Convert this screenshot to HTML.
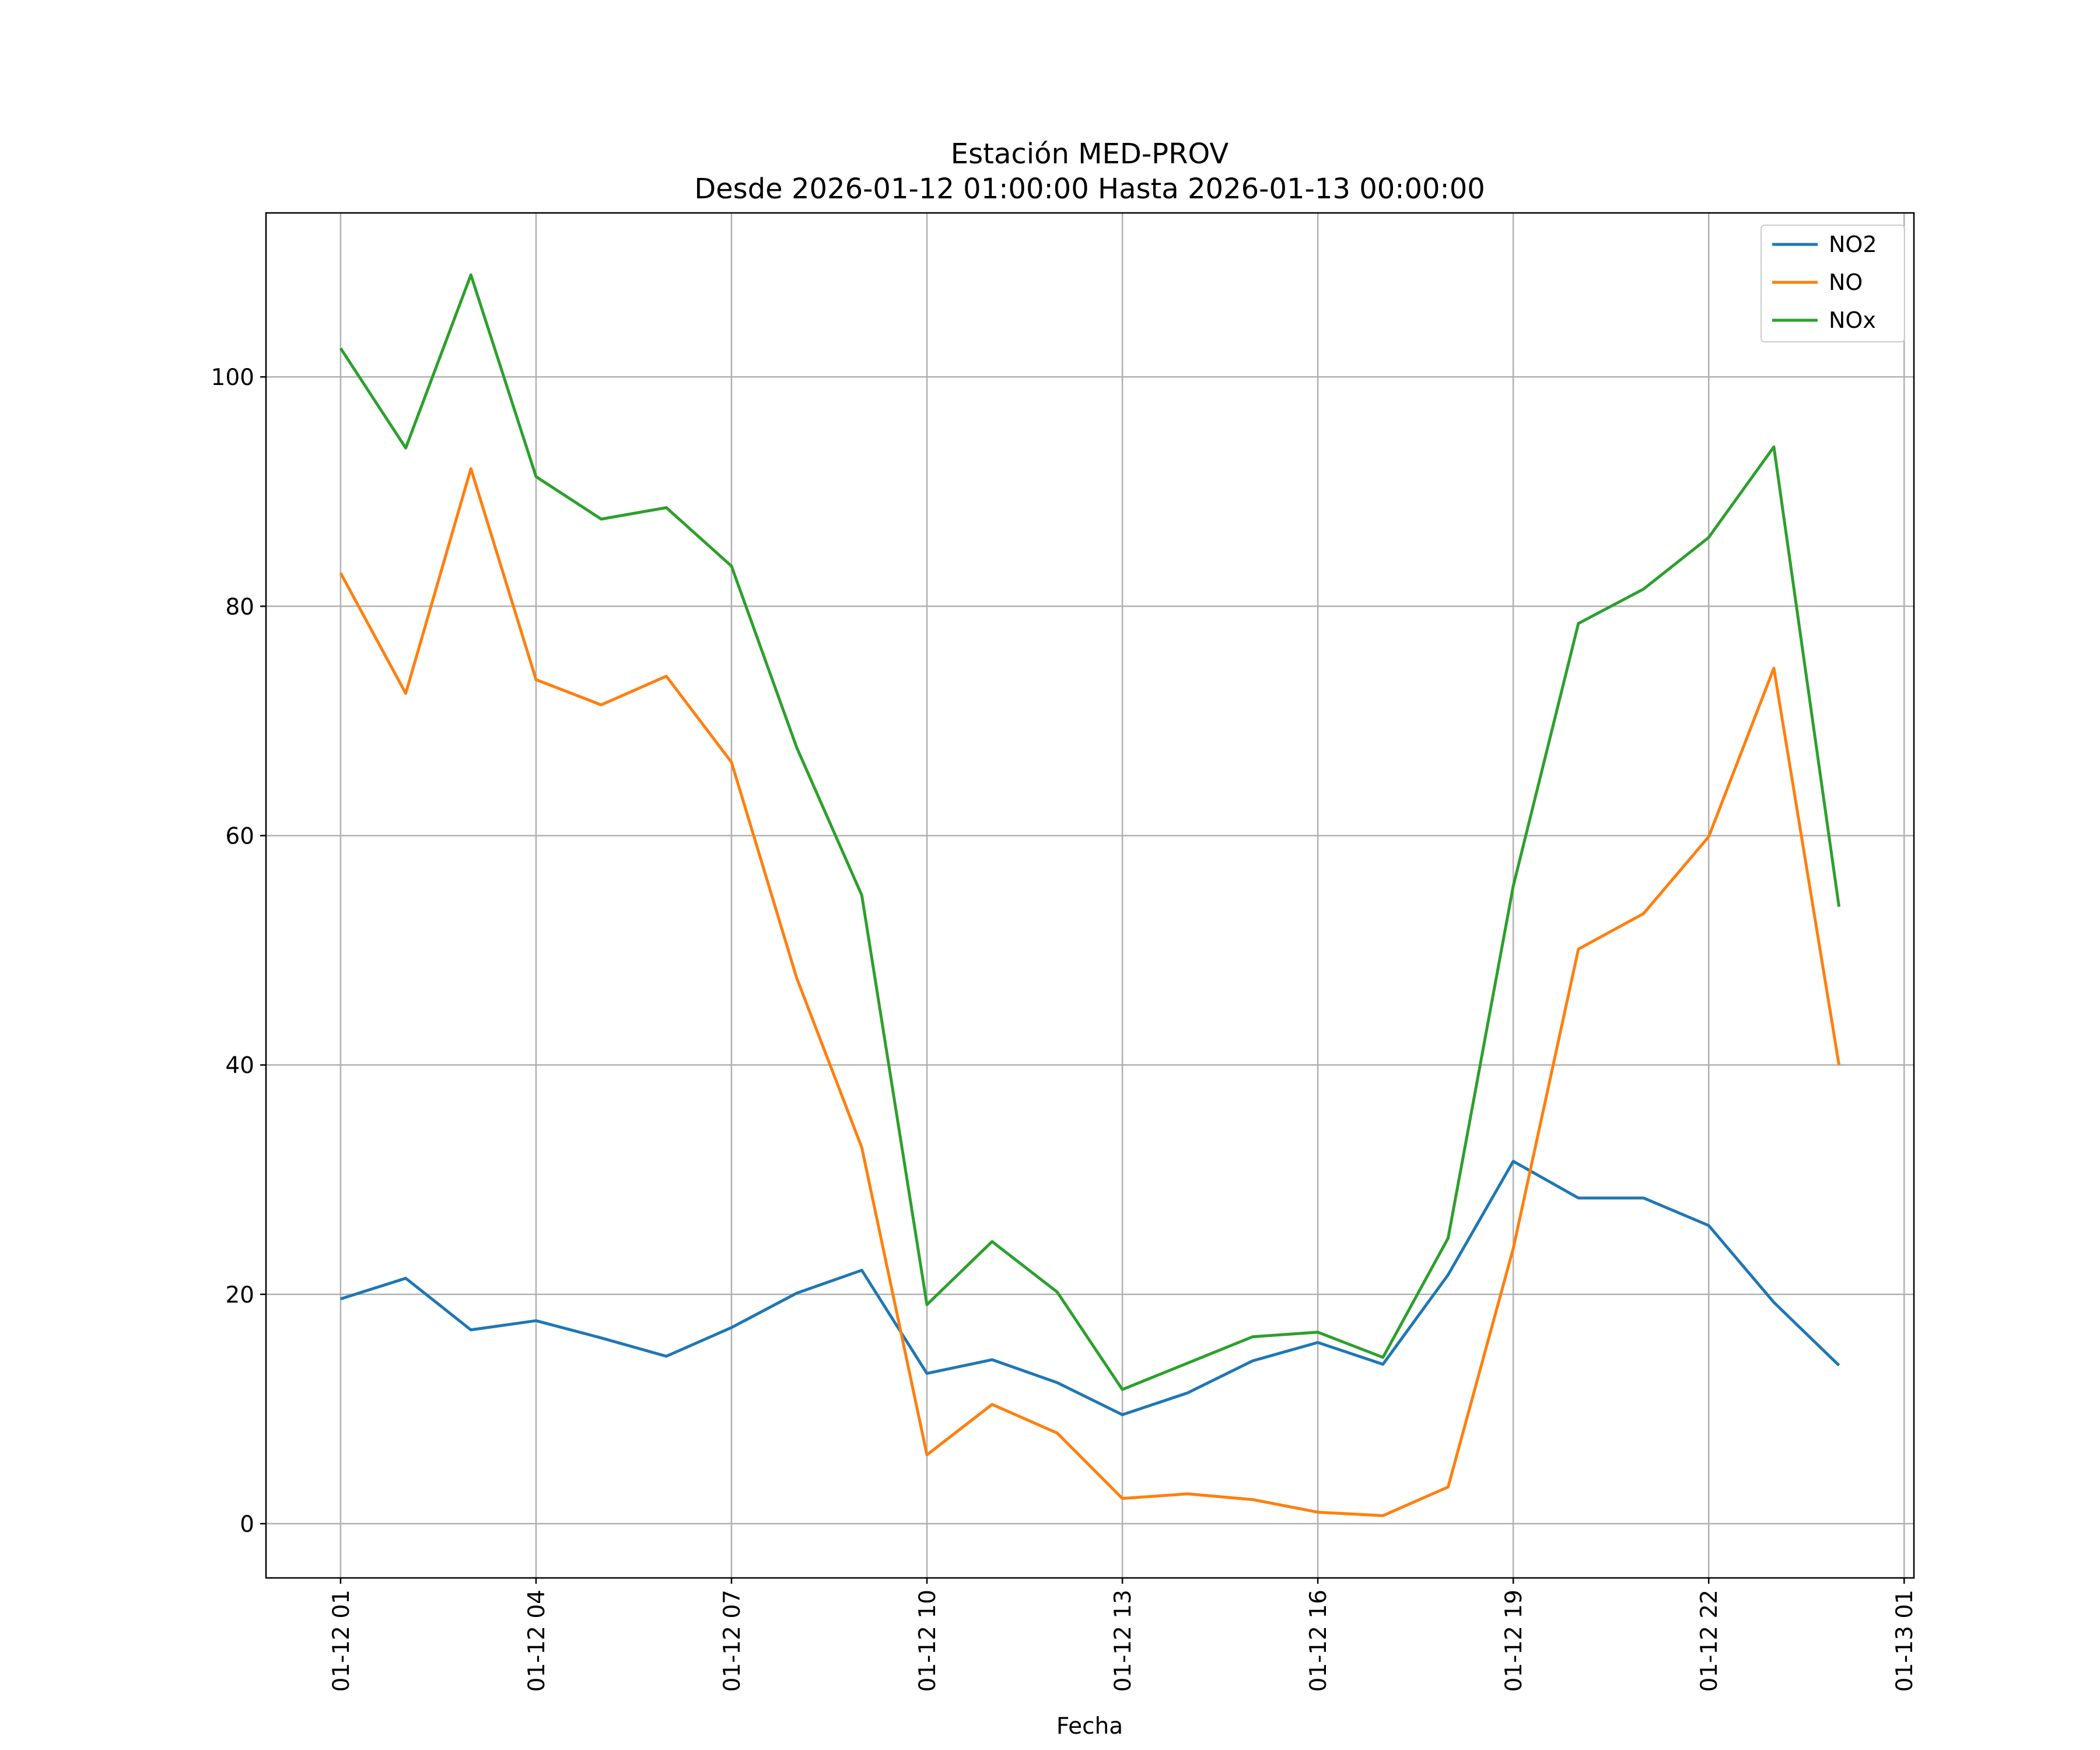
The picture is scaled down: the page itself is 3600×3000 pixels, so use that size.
<!DOCTYPE html>
<html><head><meta charset="utf-8"><style>
body{margin:0;background:#fff}
svg{display:block;font-family:"DejaVu Sans","Liberation Sans",sans-serif}
</style></head><body>
<svg width="3600" height="3000" viewBox="0 0 3600 3000">
<g id="grid"></g>
<g id="series"></g>
<g id="axes"></g>
<text x="1868" y="280" font-size="48" text-anchor="middle">Estación MED-PROV</text>
<text x="1868" y="340" font-size="48" text-anchor="middle">Desde 2026-01-12 01:00:00 Hasta 2026-01-13 00:00:00</text>
<text x="1868" y="2972" font-size="39" text-anchor="middle">Fecha</text>
<g>
<rect x="3019" y="386" width="246" height="200" fill="#fff" fill-opacity="0.8" stroke="#ccc" stroke-width="2" rx="6"/>
<g><line x1="3038" y1="419" x2="3116" y2="419" stroke="#1f77b4" stroke-width="5"/><text x="3135" y="432" font-size="38">NO2</text></g>
<g><line x1="3038" y1="484" x2="3116" y2="484" stroke="#ff7f0e" stroke-width="5"/><text x="3135" y="497" font-size="38">NO</text></g>
<g><line x1="3038" y1="549" x2="3116" y2="549" stroke="#2ca02c" stroke-width="5"/><text x="3135" y="562" font-size="38">NOx</text></g>
</g>
</svg>
<script>
const hours=[...Array(24).keys()];
const no2=[19.6,21.4,16.9,17.7,16.2,14.6,17.1,20.1,22.1,13.1,14.3,12.3,9.5,11.4,14.2,15.8,13.9,21.7,31.6,28.4,28.4,26.0,19.3,13.8];
const no=[82.9,72.4,92.0,73.6,71.4,73.9,66.4,47.6,32.8,6.0,10.4,7.9,2.2,2.6,2.1,1.0,0.7,3.2,24.0,50.1,53.2,59.9,74.6,40.0];
const nox=[102.5,93.8,108.9,91.3,87.6,88.6,83.5,67.7,54.8,19.1,24.6,20.2,11.7,14.0,16.3,16.7,14.5,24.9,55.6,78.5,81.5,86.0,93.9,53.8];
const yTicks=[0,20,40,60,80,100];
const xTickHours=[0,3,6,9,12,15,18,21,24];
const xTickLabels=["01-12 01","01-12 04","01-12 07","01-12 10","01-12 13","01-12 16","01-12 19","01-12 22","01-13 01"];
const L=456,R=3281,T=365,B=2705;
const xmin=-1.145,xmax=24.15,ymin=-4.73,ymax=114.3;
const X=h=>L+(h-xmin)/(xmax-xmin)*(R-L);
const Y=v=>B-(v-ymin)/(ymax-ymin)*(B-T);
const NS="http://www.w3.org/2000/svg";
function mk(tag,attrs,parent){const e=document.createElementNS(NS,tag);for(const k in attrs)e.setAttribute(k,attrs[k]);parent.appendChild(e);return e;}
const grid=document.getElementById('grid'),axes=document.getElementById('axes'),ser=document.getElementById('series');
yTicks.forEach(v=>{
 const g=mk('line',{x1:L,x2:R,y1:Y(v),y2:Y(v),stroke:'#b0b0b0','stroke-width':2.5},grid);
 
 
 mk('line',{x1:L-10,x2:L,y1:Y(v),y2:Y(v),stroke:'#000','stroke-width':2.5},axes);
 const t=mk('text',{x:L-20,y:Y(v)+14,'font-size':39,'text-anchor':'end'},axes);
 t.textContent=v;
 
 
});
xTickHours.forEach((h,i)=>{
 const g=mk('line',{x1:X(h),x2:X(h),y1:T,y2:B,stroke:'#b0b0b0','stroke-width':2.5},grid);
 
 
 mk('line',{x1:X(h),x2:X(h),y1:B,y2:B+10,stroke:'#000','stroke-width':2.5},axes);
 const t=mk('text',{x:0,y:0,'font-size':39,'text-anchor':'end',transform:`translate(${X(h)+14},${B+20}) rotate(-90)`},axes);
 t.textContent=xTickLabels[i];
 
 
});
mk('rect',{x:L,y:T,width:R-L,height:B-T,fill:'none',stroke:'#000','stroke-width':2.5},axes);
[[no2,'#1f77b4','line-no2'],[no,'#ff7f0e','line-no'],[nox,'#2ca02c','line-nox']].forEach(([d,c,n])=>{
 const p=mk('polyline',{points:d.map((v,i)=>X(hours[i])+','+Y(v)).join(' '),fill:'none',stroke:c,'stroke-width':5,'stroke-linejoin':'round'},ser);
 
 
});
</script>
</body></html>
